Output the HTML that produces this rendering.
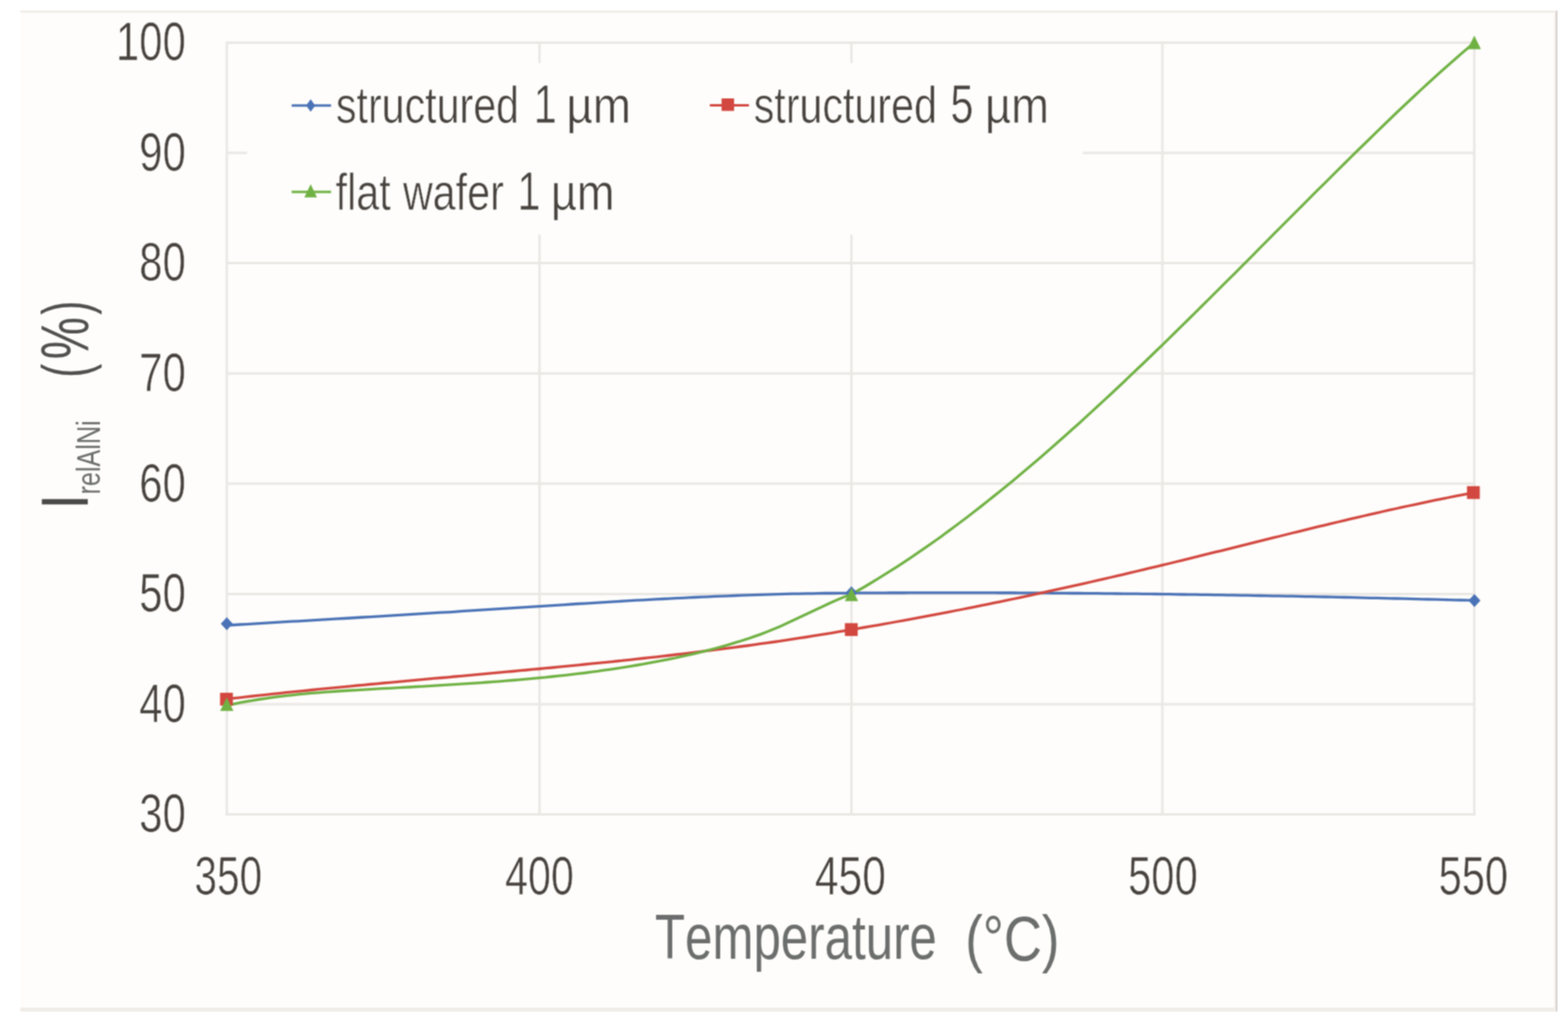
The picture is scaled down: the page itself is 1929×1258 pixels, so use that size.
<!DOCTYPE html>
<html lang="en">
<head>
<meta charset="utf-8">
<title>I rel AlNi vs Temperature</title>
<style>
html,body{margin:0;padding:0;background:#fff;}
body{width:1929px;height:1258px;overflow:hidden;}
svg{display:block;}
text{font-family:"Liberation Sans", "DejaVu Sans", sans-serif;font-kerning:none;white-space:pre;}
</style>
</head>
<body>
<svg xmlns="http://www.w3.org/2000/svg" width="1929" height="1258" viewBox="0 0 1929 1258">
<defs><filter id="soft" filterUnits="userSpaceOnUse" x="0" y="0" width="1929" height="1258" color-interpolation-filters="sRGB"><feConvolveMatrix order="3" kernelMatrix="1 2 1 2 4 2 1 2 1" divisor="16" edgeMode="duplicate" preserveAlpha="false"/></filter><linearGradient id="rb" x1="0" x2="1" y1="0" y2="0"><stop offset="0" stop-color="#f9f1ee"/><stop offset="0.45" stop-color="#f3ebe8"/><stop offset="0.55" stop-color="#d3cfcd"/><stop offset="1" stop-color="#d3cfcd"/></linearGradient></defs>
<g filter="url(#soft)">
<rect x="25" y="13" width="1891" height="1231" fill="#fefdfb"/>
<rect x="25" y="13" width="1891" height="2.4" fill="#efebe8"/>
<rect x="25" y="1239" width="1891" height="5" fill="#f0ede8"/>
<rect x="1912" y="13" width="4" height="1231" fill="url(#rb)"/>
<path d="M277.6 1001.6H1815.2 M277.6 866.0H1815.2 M277.6 730.4H1815.2 M277.6 594.8H1815.2 M277.6 459.2H1815.2 M277.6 323.6H1815.2 M277.6 188.0H1815.2 M277.6 52.4H1815.2 M279.1 50.9V1003.1 M663.7 50.9V1003.1 M1047.4 50.9V1003.1 M1430.0 50.9V1003.1 M1813.7 50.9V1003.1" stroke="#eae7e4" stroke-width="3.0" fill="none"/>
<rect x="304" y="77.5" width="1028" height="211" fill="#fefdfb"/>
<path d="M279.1 769.0 L287.1 768.5 L295.1 768.0 L303.1 767.6 L311.1 767.1 L319.1 766.6 L327.1 766.1 L335.1 765.7 L343.1 765.2 L351.1 764.7 L359.1 764.2 L367.1 763.8 L375.1 763.3 L383.1 762.8 L391.1 762.4 L399.1 761.9 L407.2 761.4 L415.2 760.9 L423.2 760.5 L431.2 760.0 L439.2 759.5 L447.2 759.0 L455.2 758.6 L463.2 758.1 L471.2 757.6 L479.2 757.1 L487.2 756.7 L495.2 756.2 L503.2 755.7 L511.2 755.2 L519.2 754.7 L527.2 754.2 L535.2 753.7 L543.2 753.2 L551.2 752.8 L559.2 752.3 L567.2 751.7 L575.2 751.2 L583.2 750.7 L591.2 750.2 L599.2 749.7 L607.2 749.2 L615.2 748.7 L623.2 748.2 L631.2 747.7 L639.2 747.1 L647.2 746.6 L655.2 746.1 L663.2 745.6 L671.3 745.1 L679.3 744.6 L687.3 744.1 L695.3 743.6 L703.3 743.0 L711.3 742.5 L719.3 742.1 L727.3 741.6 L735.3 741.1 L743.3 740.6 L751.3 740.1 L759.3 739.6 L767.3 739.2 L775.3 738.7 L783.3 738.2 L791.3 737.8 L799.3 737.4 L807.3 736.9 L815.3 736.5 L823.3 736.1 L831.3 735.7 L839.3 735.3 L847.3 734.9 L855.3 734.5 L863.3 734.1 L871.3 733.8 L879.3 733.4 L887.3 733.1 L895.3 732.8 L903.3 732.5 L911.3 732.1 L919.4 731.9 L927.4 731.6 L935.4 731.3 L943.4 731.1 L951.4 730.8 L959.4 730.6 L967.4 730.4 L975.4 730.2 L983.4 730.1 L991.4 729.9 L999.4 729.8 L1007.4 729.6 L1015.4 729.5 L1023.4 729.5 L1031.4 729.4 L1039.4 729.3 L1047.4 729.3 L1055.4 729.2 L1063.4 729.2 L1071.3 729.1 L1079.3 729.1 L1087.3 729.1 L1095.3 729.0 L1103.3 729.0 L1111.3 729.0 L1119.2 728.9 L1127.2 728.9 L1135.2 728.9 L1143.2 728.9 L1151.2 728.9 L1159.2 728.9 L1167.1 728.9 L1175.1 728.9 L1183.1 728.9 L1191.1 728.9 L1199.1 728.9 L1207.0 728.9 L1215.0 728.9 L1223.0 728.9 L1231.0 729.0 L1239.0 729.0 L1247.0 729.0 L1254.9 729.1 L1262.9 729.1 L1270.9 729.2 L1278.9 729.2 L1286.9 729.2 L1294.9 729.3 L1302.8 729.3 L1310.8 729.4 L1318.8 729.5 L1326.8 729.5 L1334.8 729.6 L1342.7 729.7 L1350.7 729.7 L1358.7 729.8 L1366.7 729.9 L1374.7 730.0 L1382.7 730.1 L1390.6 730.2 L1398.6 730.2 L1406.6 730.3 L1414.6 730.4 L1422.6 730.5 L1430.6 730.6 L1438.5 730.7 L1446.5 730.8 L1454.5 731.0 L1462.5 731.1 L1470.5 731.2 L1478.4 731.3 L1486.4 731.4 L1494.4 731.6 L1502.4 731.7 L1510.4 731.8 L1518.4 731.9 L1526.3 732.1 L1534.3 732.2 L1542.3 732.4 L1550.3 732.5 L1558.3 732.6 L1566.2 732.8 L1574.2 732.9 L1582.2 733.1 L1590.2 733.2 L1598.2 733.4 L1606.2 733.6 L1614.1 733.7 L1622.1 733.9 L1630.1 734.0 L1638.1 734.2 L1646.1 734.4 L1654.1 734.5 L1662.0 734.7 L1670.0 734.9 L1678.0 735.1 L1686.0 735.3 L1694.0 735.4 L1701.9 735.6 L1709.9 735.8 L1717.9 736.0 L1725.9 736.2 L1733.9 736.4 L1741.9 736.6 L1749.8 736.8 L1757.8 737.0 L1765.8 737.2 L1773.8 737.4 L1781.8 737.6 L1789.8 737.8 L1797.7 738.0 L1805.7 738.2 L1813.7 738.4" stroke="#4a72b6" stroke-width="3.3" fill="none" stroke-linejoin="round"/>
<path d="M279.1 859.6 L287.1 858.7 L295.1 857.8 L303.1 856.9 L311.1 856.0 L319.1 855.1 L327.1 854.3 L335.1 853.4 L343.1 852.6 L351.1 851.7 L359.1 850.9 L367.1 850.1 L375.1 849.3 L383.1 848.5 L391.1 847.7 L399.1 846.9 L407.2 846.1 L415.2 845.3 L423.2 844.6 L431.2 843.8 L439.2 843.0 L447.2 842.3 L455.2 841.5 L463.2 840.8 L471.2 840.0 L479.2 839.3 L487.2 838.6 L495.2 837.8 L503.2 837.1 L511.2 836.4 L519.2 835.6 L527.2 834.9 L535.2 834.2 L543.2 833.5 L551.2 832.8 L559.2 832.0 L567.2 831.3 L575.2 830.6 L583.2 829.9 L591.2 829.1 L599.2 828.4 L607.2 827.7 L615.2 826.9 L623.2 826.2 L631.2 825.5 L639.2 824.7 L647.2 824.0 L655.2 823.2 L663.2 822.5 L671.3 821.7 L679.3 821.0 L687.3 820.2 L695.3 819.4 L703.3 818.6 L711.3 817.8 L719.3 817.0 L727.3 816.2 L735.3 815.4 L743.3 814.6 L751.3 813.8 L759.3 813.0 L767.3 812.1 L775.3 811.3 L783.3 810.4 L791.3 809.5 L799.3 808.7 L807.3 807.8 L815.3 806.9 L823.3 806.0 L831.3 805.0 L839.3 804.1 L847.3 803.1 L855.3 802.2 L863.3 801.2 L871.3 800.2 L879.3 799.2 L887.3 798.2 L895.3 797.1 L903.3 796.1 L911.3 795.0 L919.4 794.0 L927.4 792.9 L935.4 791.7 L943.4 790.6 L951.4 789.5 L959.4 788.3 L967.4 787.1 L975.4 785.9 L983.4 784.7 L991.4 783.5 L999.4 782.2 L1007.4 780.9 L1015.4 779.6 L1023.4 778.3 L1031.4 776.9 L1039.4 775.6 L1047.4 774.2 L1055.4 772.9 L1063.4 771.5 L1071.3 770.1 L1079.3 768.8 L1087.3 767.4 L1095.2 766.0 L1103.2 764.5 L1111.2 763.1 L1119.2 761.6 L1127.2 760.2 L1135.1 758.7 L1143.1 757.2 L1151.1 755.7 L1159.1 754.1 L1167.0 752.6 L1175.0 751.0 L1183.0 749.5 L1191.0 747.9 L1198.9 746.3 L1206.9 744.7 L1214.9 743.1 L1222.9 741.4 L1230.8 739.8 L1238.8 738.1 L1246.8 736.5 L1254.8 734.8 L1262.7 733.1 L1270.7 731.4 L1278.7 729.7 L1286.7 727.9 L1294.6 726.2 L1302.6 724.4 L1310.6 722.7 L1318.6 720.9 L1326.5 719.1 L1334.5 717.3 L1342.5 715.5 L1350.5 713.7 L1358.4 711.8 L1366.4 710.0 L1374.4 708.1 L1382.3 706.3 L1390.3 704.4 L1398.3 702.5 L1406.3 700.6 L1414.2 698.7 L1422.2 696.8 L1430.2 694.9 L1438.2 693.0 L1446.2 691.0 L1454.1 689.1 L1462.1 687.1 L1470.1 685.2 L1478.0 683.2 L1486.0 681.2 L1494.0 679.2 L1502.0 677.3 L1510.0 675.3 L1517.9 673.3 L1525.9 671.3 L1533.9 669.3 L1541.8 667.4 L1549.8 665.4 L1557.8 663.4 L1565.8 661.4 L1573.8 659.5 L1581.7 657.5 L1589.7 655.5 L1597.7 653.6 L1605.7 651.6 L1613.6 649.7 L1621.6 647.7 L1629.6 645.8 L1637.5 643.9 L1645.5 642.0 L1653.5 640.1 L1661.5 638.2 L1669.5 636.4 L1677.4 634.5 L1685.4 632.7 L1693.4 630.8 L1701.3 629.0 L1709.3 627.2 L1717.3 625.5 L1725.3 623.7 L1733.2 622.0 L1741.2 620.3 L1749.2 618.6 L1757.2 616.9 L1765.2 615.2 L1773.1 613.6 L1781.1 612.0 L1789.1 610.4 L1797.0 608.8 L1805.0 607.3 L1813.0 605.8" stroke="#d2473f" stroke-width="3.3" fill="none" stroke-linejoin="round"/>
<path d="M279.1 867.6 L287.1 865.9 L295.1 864.2 L303.1 862.7 L311.1 861.3 L319.1 860.0 L327.1 858.8 L335.1 857.7 L343.1 856.6 L351.1 855.7 L359.1 854.8 L367.1 853.9 L375.1 853.2 L383.1 852.4 L391.1 851.8 L399.1 851.2 L407.2 850.6 L415.2 850.0 L423.2 849.5 L431.2 849.0 L439.2 848.6 L447.2 848.1 L455.2 847.6 L463.2 847.2 L471.2 846.7 L479.2 846.3 L487.2 845.9 L495.2 845.4 L503.2 845.0 L511.2 844.5 L519.2 844.1 L527.2 843.6 L535.2 843.1 L543.2 842.7 L551.2 842.2 L559.2 841.7 L567.2 841.2 L575.2 840.7 L583.2 840.1 L591.2 839.6 L599.2 839.0 L607.2 838.4 L615.2 837.8 L623.2 837.2 L631.2 836.5 L639.2 835.8 L647.2 835.1 L655.2 834.4 L663.2 833.6 L671.3 832.9 L679.3 832.0 L687.3 831.2 L695.3 830.3 L703.3 829.4 L711.3 828.4 L719.3 827.5 L727.3 826.4 L735.3 825.4 L743.3 824.2 L751.3 823.1 L759.3 821.9 L767.3 820.7 L775.3 819.4 L783.3 818.0 L791.3 816.7 L799.3 815.2 L807.3 813.7 L815.3 812.2 L823.3 810.6 L831.3 809.0 L839.3 807.2 L847.3 805.4 L855.3 803.6 L863.3 801.7 L871.3 799.6 L879.3 797.5 L887.3 795.4 L895.3 793.1 L903.3 790.7 L911.3 788.2 L919.4 785.7 L927.4 782.9 L935.4 780.1 L943.4 777.0 L951.4 773.8 L959.4 770.4 L967.4 766.8 L975.4 763.1 L983.4 759.3 L991.4 755.5 L999.4 751.7 L1007.4 747.9 L1015.4 744.2 L1023.4 740.6 L1031.4 737.1 L1039.4 733.8 L1047.4 730.8 L1055.4 726.3 L1063.4 721.7 L1071.3 717.0 L1079.3 712.1 L1087.3 707.2 L1095.3 702.2 L1103.3 697.1 L1111.3 691.9 L1119.2 686.6 L1127.2 681.2 L1135.2 675.7 L1143.2 670.2 L1151.2 664.5 L1159.2 658.8 L1167.1 652.9 L1175.1 647.0 L1183.1 641.0 L1191.1 635.0 L1199.1 628.8 L1207.0 622.6 L1215.0 616.3 L1223.0 609.9 L1231.0 603.5 L1239.0 597.0 L1247.0 590.4 L1254.9 583.8 L1262.9 577.0 L1270.9 570.3 L1278.9 563.4 L1286.9 556.5 L1294.9 549.6 L1302.8 542.5 L1310.8 535.5 L1318.8 528.3 L1326.8 521.2 L1334.8 513.9 L1342.7 506.6 L1350.7 499.3 L1358.7 491.9 L1366.7 484.5 L1374.7 477.0 L1382.7 469.5 L1390.6 461.9 L1398.6 454.3 L1406.6 446.7 L1414.6 439.0 L1422.6 431.3 L1430.6 423.6 L1438.5 415.8 L1446.5 408.0 L1454.5 400.1 L1462.5 392.3 L1470.5 384.4 L1478.4 376.5 L1486.4 368.6 L1494.4 360.7 L1502.4 352.7 L1510.4 344.7 L1518.4 336.8 L1526.3 328.8 L1534.3 320.8 L1542.3 312.8 L1550.3 304.7 L1558.3 296.7 L1566.2 288.7 L1574.2 280.7 L1582.2 272.7 L1590.2 264.7 L1598.2 256.7 L1606.2 248.7 L1614.1 240.7 L1622.1 232.7 L1630.1 224.8 L1638.1 216.9 L1646.1 208.9 L1654.1 201.0 L1662.0 193.1 L1670.0 185.3 L1678.0 177.5 L1686.0 169.7 L1694.0 161.9 L1701.9 154.2 L1709.9 146.5 L1717.9 138.8 L1725.9 131.3 L1733.9 123.7 L1741.9 116.3 L1749.8 108.9 L1757.8 101.5 L1765.8 94.3 L1773.8 87.1 L1781.8 80.0 L1789.8 73.0 L1797.7 66.1 L1805.7 59.3 L1813.7 52.6" stroke="#6fb143" stroke-width="3.3" fill="none" stroke-linejoin="round"/>
<path d="M279.0 759.1 L286.4 767.1 L279.0 775.1 L271.6 767.1Z" fill="#4a72b6"/>
<path d="M1047.4 721.0 L1054.8 729.0 L1047.4 737.0 L1040.0 729.0Z" fill="#4a72b6"/>
<path d="M1813.9 730.5 L1821.3 738.5 L1813.9 746.5 L1806.5 738.5Z" fill="#4a72b6"/>
<rect x="270.7" y="851.9" width="15.8" height="15.8" fill="#d2473f"/>
<rect x="1039.4" y="766.3" width="15.8" height="15.8" fill="#d2473f"/>
<rect x="1804.7" y="597.8" width="15.8" height="15.8" fill="#d2473f"/>
<path d="M279.0 857.7 L287.2 874.3 L270.8 874.3Z" fill="#6fb143"/>
<path d="M1047.5 722.7 L1055.7 739.3 L1039.3 739.3Z" fill="#6fb143"/>
<path d="M1813.7 43.8 L1821.9 60.4 L1805.5 60.4Z" fill="#6fb143"/>
<path d="M358.8 129.7H407.3" stroke="#4a72b6" stroke-width="3"/>
<path d="M382.2 121.9 L387.8 129.7 L382.2 137.5 L376.6 129.7Z" fill="#4a72b6"/>
<path d="M873.3 129.6H921.4" stroke="#d2473f" stroke-width="3"/>
<rect x="887.7" y="121.0" width="15.4" height="15.4" fill="#d2473f"/>
<path d="M358.8 236H407.3" stroke="#6fb143" stroke-width="3"/>
<path d="M382.2 226.4 L390.0 242.8 L374.4 242.8Z" fill="#6fb143"/>
<g fill="#48433f" stroke="#fefdfb" stroke-width="0.7">
<text transform="translate(413.29 151.00) scale(0.8042 1)" font-size="63.0" fill="#48433f">structured</text>
<text transform="translate(656.42 151.00) scale(0.7720 1)" font-size="66.0" fill="#48433f">1</text>
<text transform="translate(696.74 151.00) scale(0.8964 1)" font-size="63.0" fill="#48433f">µm</text>
<text transform="translate(927.19 151.00) scale(0.8050 1)" font-size="63.0" fill="#48433f">structured</text>
<text transform="translate(1169.26 151.00) scale(0.7702 1)" font-size="66.0" fill="#48433f">5</text>
<text transform="translate(1211.68 151.00) scale(0.8877 1)" font-size="63.0" fill="#48433f">µm</text>
<text transform="translate(412.78 257.70) scale(0.8091 1)" font-size="63.0" fill="#48433f">flat</text>
<text transform="translate(495.67 257.70) scale(0.8060 1)" font-size="63.0" fill="#48433f">wafer</text>
<text transform="translate(636.42 257.70) scale(0.7720 1)" font-size="66.0" fill="#48433f">1</text>
<text transform="translate(677.38 257.70) scale(0.8877 1)" font-size="63.0" fill="#48433f">µm</text>
<text transform="translate(171.35 1023.30) scale(0.7800 1)" font-size="66.0" fill="#48433f">30</text>
<text transform="translate(171.35 887.70) scale(0.7800 1)" font-size="66.0" fill="#48433f">40</text>
<text transform="translate(171.35 752.10) scale(0.7800 1)" font-size="66.0" fill="#48433f">50</text>
<text transform="translate(171.35 616.50) scale(0.7800 1)" font-size="66.0" fill="#48433f">60</text>
<text transform="translate(171.35 480.90) scale(0.7800 1)" font-size="66.0" fill="#48433f">70</text>
<text transform="translate(171.35 345.30) scale(0.7800 1)" font-size="66.0" fill="#48433f">80</text>
<text transform="translate(171.35 209.70) scale(0.7800 1)" font-size="66.0" fill="#48433f">90</text>
<text transform="translate(142.72 74.10) scale(0.7800 1)" font-size="66.0" fill="#48433f">100</text>
<text transform="translate(239.30 1100.40) scale(0.7541 1)" font-size="66.0" fill="#48433f">350</text>
<text transform="translate(621.23 1100.40) scale(0.7706 1)" font-size="66.0" fill="#48433f">400</text>
<text transform="translate(1002.40 1100.40) scale(0.7941 1)" font-size="66.0" fill="#48433f">450</text>
<text transform="translate(1387.74 1100.40) scale(0.7789 1)" font-size="66.0" fill="#48433f">500</text>
<text transform="translate(1769.64 1100.40) scale(0.7789 1)" font-size="66.0" fill="#48433f">550</text>
</g>
<text transform="translate(805.74 1179.30) scale(0.7768 1)" font-size="78.0" fill="#6c6e6e">Temperature</text>
<text transform="translate(1187.38 1180.50) scale(0.8321 1)" font-size="78.0" fill="#6c6e6e">(°C)</text>
<text transform="translate(108.00 626.53) rotate(-90) scale(0.8369 1)" font-size="82.0" fill="#4a4a4a">I</text>
<text transform="translate(123.30 608.06) rotate(-90) scale(0.7557 1)" font-size="41.0" fill="#6c6e6e">relAlNi</text>
<text transform="translate(108.30 464.38) rotate(-90) scale(0.6372 1)" font-size="80.5" fill="#505050">(</text>
<text transform="translate(109.00 441.78) rotate(-90) scale(0.6943 1)" font-size="84.0" fill="#505050">%</text>
<text transform="translate(108.30 387.00) rotate(-90) scale(0.6419 1)" font-size="80.5" fill="#505050">)</text>
</g>
</svg>
</body>
</html>
